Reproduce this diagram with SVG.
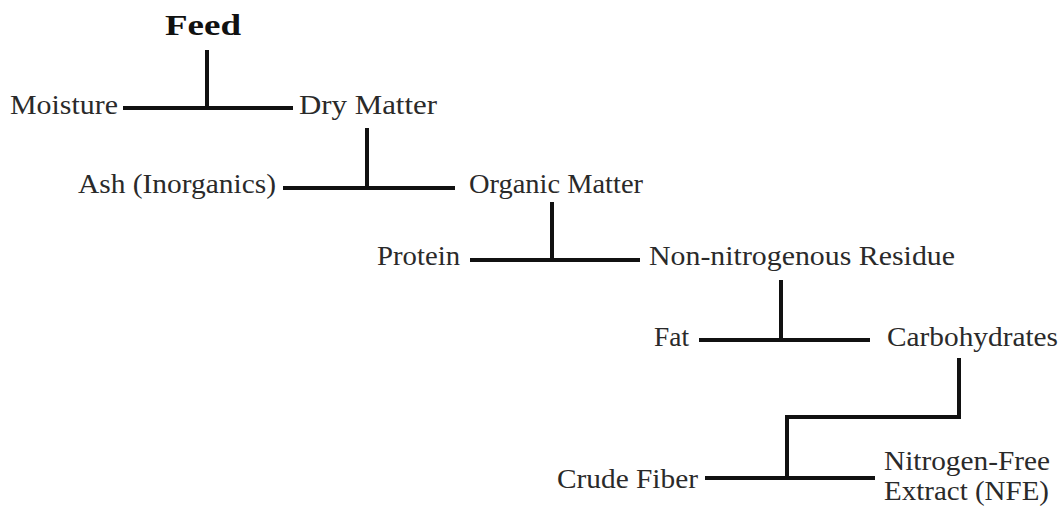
<svg xmlns="http://www.w3.org/2000/svg" width="1064" height="508" viewBox="0 0 1064 508">
<style>
text{font-family:'Liberation Serif','Times New Roman',Times,serif;font-size:27px;fill:#2a2a2a}
.b{font-weight:bold;font-size:30px;fill:#111}
.c{stroke:#111;stroke-width:4;fill:none;stroke-linecap:butt;stroke-linejoin:miter}
</style>
<rect width="1064" height="508" fill="#fff"/>
<g id="connectors" class="c">
<path d="M207 50V108M123 108H293"/>
<path d="M367 128V188M283 188H455"/>
<path d="M552 202V260M470 260H640"/>
<path d="M781 280V340M699 340H870"/>
<path d="M959 358V417H787V478M705 478H875"/>
</g>
<g id="feed"><text class="b" font-family="Liberation Serif" x="165" y="35" textLength="76" lengthAdjust="spacingAndGlyphs">Feed</text></g>
<g id="moisture"><text font-family="Liberation Serif" x="10" y="114" textLength="108" lengthAdjust="spacingAndGlyphs">Moisture</text></g>
<g id="dry-matter"><text font-family="Liberation Serif" x="299" y="114" textLength="138" lengthAdjust="spacingAndGlyphs">Dry Matter</text></g>
<g id="ash"><text font-family="Liberation Serif" x="78" y="193" textLength="198" lengthAdjust="spacingAndGlyphs">Ash (Inorganics)</text></g>
<g id="organic-matter"><text font-family="Liberation Serif" x="469" y="193" textLength="174" lengthAdjust="spacingAndGlyphs">Organic Matter</text></g>
<g id="protein"><text font-family="Liberation Serif" x="377" y="265" textLength="83" lengthAdjust="spacingAndGlyphs">Protein</text></g>
<g id="non-nitrogenous"><text font-family="Liberation Serif" x="649" y="265" textLength="306" lengthAdjust="spacingAndGlyphs">Non-nitrogenous Residue</text></g>
<g id="fat"><text font-family="Liberation Serif" x="654" y="346" textLength="35" lengthAdjust="spacingAndGlyphs">Fat</text></g>
<g id="carbohydrates"><text font-family="Liberation Serif" x="887" y="346" textLength="171" lengthAdjust="spacingAndGlyphs">Carbohydrates</text></g>
<g id="crude-fiber"><text font-family="Liberation Serif" x="557" y="488" textLength="141" lengthAdjust="spacingAndGlyphs">Crude Fiber</text></g>
<g id="nfe"><text font-family="Liberation Serif" x="884" y="470" textLength="166" lengthAdjust="spacingAndGlyphs">Nitrogen-Free</text><text font-family="Liberation Serif" x="884" y="500" textLength="165" lengthAdjust="spacingAndGlyphs">Extract (NFE)</text></g>
</svg>
